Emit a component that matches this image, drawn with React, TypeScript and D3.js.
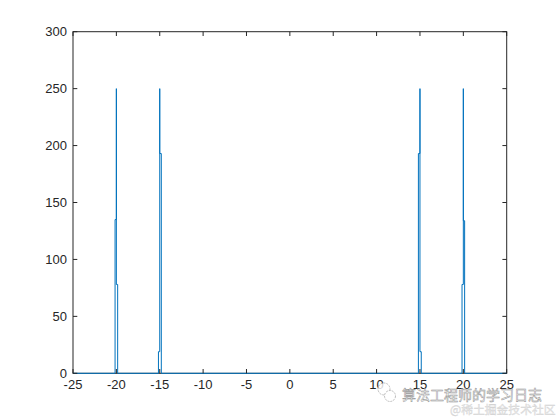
import React from 'react';
import { scaleLinear, line, range, curveStepAfter } from 'd3';

// spectrum, drawn as steps (baseline + four narrow peaks)
const freqs = [
  -25, -20.15, -20.0, -20.0, -19.85,
  -15.15, -15.0, -15.0, -14.82,
  14.82, 15.0, 15.0, 15.15,
  19.85, 20.0, 20.0, 20.15, 25
];
const amps = [
  0, 135, 250, 78, 0,
  19, 250, 193, 0,
  193, 250, 19, 0,
  78, 250, 134, 0, 0
];
const xTicks = [-25, -20, -15, -10, -5, 0, 5, 10, 15, 20, 25];
const yTicks = [0, 50, 100, 150, 200, 250, 300];

const width = 560;
const height = 420;
const margin = { top: 31.7, right: 53.3, bottom: 46.7, left: 73 };
const axisColor = '#262626';
const lineColor = '#0072BD';
const tickLen = 4.3;

export default function App() {
  const x = scaleLinear().domain([-25, 25]).range([margin.left, width - margin.right]);
  const y = scaleLinear().domain([0, 300]).range([height - margin.bottom, margin.top]);
  const pts = range(freqs.length).map(i => [freqs[i], amps[i]] as [number, number]);
  const path = line<[number, number]>()
    .x(d => x(d[0]))
    .y(d => y(d[1]))
    .curve(curveStepAfter)(pts);

  const x0 = x(-25), x1 = x(25), y0 = y(0), y1 = y(300);

  return (
    <svg
      width={width}
      height={height}
      style={{ position: 'absolute', left: 0, top: 0, background: '#fff' }}
      fontFamily="Arial, 'Liberation Sans', sans-serif"
    >
      <rect x={0} y={0} width={width} height={height} fill="#fff" />

      {/* box */}
      <rect x={x0} y={y1} width={x1 - x0} height={y0 - y1} fill="none" stroke={axisColor} strokeWidth={1} />

      <path d={path || ''} fill="none" stroke={lineColor} strokeWidth={1} />

      {xTicks.map(t => (
        <g key={'x' + t}>
          <line x1={x(t)} x2={x(t)} y1={y0} y2={y0 - tickLen} stroke={axisColor} />
          <line x1={x(t)} x2={x(t)} y1={y1} y2={y1 + tickLen} stroke={axisColor} />
          <text x={x(t)} y={y0 + 16} fontSize={13} textAnchor="middle" fill={axisColor}>
            {t}
          </text>
        </g>
      ))}
      {yTicks.map(t => (
        <g key={'y' + t}>
          <line x1={x0} x2={x0 + tickLen} y1={y(t)} y2={y(t)} stroke={axisColor} />
          <line x1={x1} x2={x1 - tickLen} y1={y(t)} y2={y(t)} stroke={axisColor} />
          <text x={x0 - 6} y={y(t) + 4.5} fontSize={13} textAnchor="end" fill={axisColor}>
            {t}
          </text>
        </g>
      ))}

      {/* watermark */}
      <g opacity={0.8}>
        <circle cx={384} cy={389} r={6} fill="#fff" stroke="#999" strokeWidth={0.8} strokeDasharray="2 1" />
        <circle cx={390} cy={396} r={5.5} fill="#fff" stroke="#999" strokeWidth={0.8} strokeDasharray="2 1" />
        <text
          x={402}
          y={400}
          fontSize={14}
          fontFamily="'Noto Sans CJK SC', sans-serif"
          fill="#fff"
          stroke="#777"
          strokeWidth={0.5}
        >
          算法工程师的学习日志
        </text>
        <text
          x={450}
          y={414}
          fontSize={11.8}
          fontFamily="'Noto Sans CJK SC', sans-serif"
          fill="#e4e4e4"
          stroke="#c4c4c4"
          strokeWidth={0.3}
        >
          @稀土掘金技术社区
        </text>
      </g>
    </svg>
  );
}
